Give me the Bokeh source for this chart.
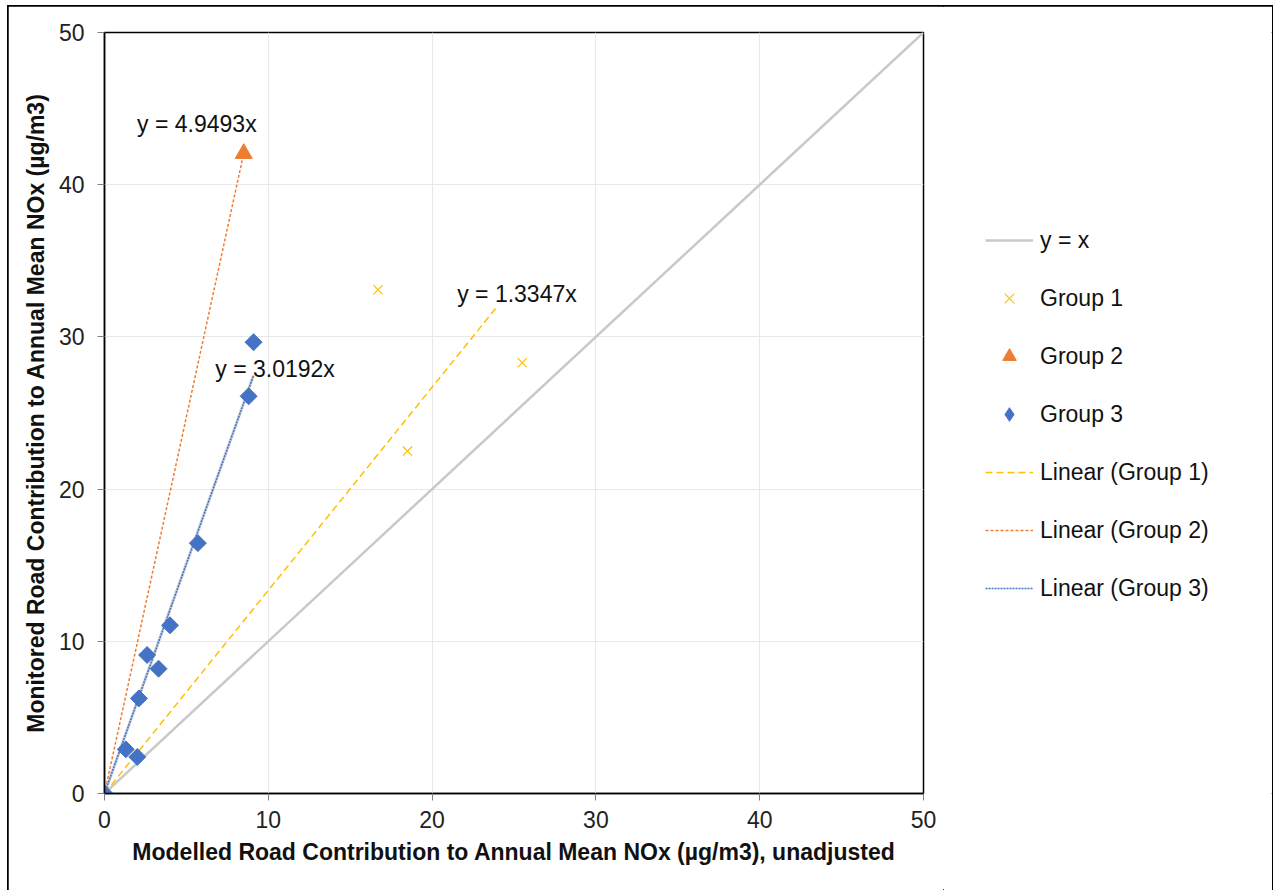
import math
from bokeh.plotting import figure
from bokeh.layouts import row
from bokeh.models import (Range1d, FixedTicker, Legend, LegendItem, Label)
from bokeh.embed import file_html
from bokeh.resources import INLINE

# ---- data ----
g1_x = [16.7, 18.5, 25.5]
g1_y = [33.1, 22.5, 28.3]
g2_x = [0.0, 8.5]
g2_y = [0.0, 42.05]
g3_x = [0.0, 1.3, 2.0, 2.1, 2.6, 3.3, 4.0, 5.7, 8.8, 9.1]
g3_y = [0.0, 2.9, 2.4, 6.25, 9.1, 8.2, 11.05, 16.45, 26.1, 29.65]
identity_x = [0, 50]
trend_slopes = [1.3347, 4.9493, 3.0192]
trend_x_end = [24.0, 8.5, 9.1]
trend_labels = ["y = 1.3347x", "y = 4.9493x", "y = 3.0192x"]
ticks = [0, 10, 20, 30, 40, 50]

FONT = "Liberation Sans"
FS = "23px"
YELLOW = "#FFC000"
ORANGE = "#ED7D31"
BLUE = "#4472C4"
GREY = "#C9C9C9"
colors = [YELLOW, ORANGE, BLUE]
dashes = ["7 4", "3 2", "2 1"]

p = figure(width=935, height=884, x_range=Range1d(0, 50), y_range=Range1d(0, 50),
           output_backend="svg", toolbar_location=None,
           min_border_left=96, min_border_right=20, min_border_top=26, min_border_bottom=97)

p.outline_line_color = "black"
p.outline_line_width = 1.5
p.background_fill_color = "white"
p.border_fill_color = "white"

for ax in (p.xaxis[0], p.yaxis[0]):
    ax.ticker = FixedTicker(ticks=ticks)
    ax.axis_line_color = "black"
    ax.axis_line_width = 1.5
    ax.major_tick_line_color = "#808080"
    ax.major_tick_out = 7
    ax.major_tick_in = 0
    ax.minor_tick_line_color = None
    ax.major_label_text_font = FONT
    ax.major_label_text_font_size = FS
    ax.major_label_text_color = "#222222"
    ax.axis_label_text_font = FONT
    ax.axis_label_text_font_size = FS
    ax.axis_label_text_font_style = "bold"
    ax.axis_label_text_color = "#111111"

p.xaxis.axis_label = "Modelled Road Contribution to Annual Mean NOx (µg/m3), unadjusted"
p.yaxis.axis_label = "Monitored Road Contribution to Annual Mean NOx (µg/m3)"
p.xaxis.major_label_standoff = 10
p.yaxis.major_label_standoff = 13
p.xaxis.axis_label_standoff = 8
p.yaxis.axis_label_standoff = 7

p.xgrid.ticker = FixedTicker(ticks=ticks)
p.ygrid.ticker = FixedTicker(ticks=ticks)
p.xgrid.grid_line_color = "#E8E8E8"
p.ygrid.grid_line_color = "#E8E8E8"

# y = x
p.line(identity_x, identity_x, line_color=GREY, line_width=2.5)

# trendlines
for i in range(3):
    xs = [0, trend_x_end[i]]
    ys = [0, trend_slopes[i] * trend_x_end[i]]
    if i == 2:
        p.line(xs, ys, line_color="#B8BCC8", line_width=3, line_alpha=0.7)
    p.line(xs, ys, line_color=colors[i], line_width=1.5, line_dash=dashes[i])

# scatter
p.scatter(g1_x, g1_y, marker="x", size=13, line_color=YELLOW, line_width=1.2)
p.scatter(g2_x, g2_y, marker="triangle", size=17, fill_color=ORANGE, line_color=ORANGE)
p.scatter(g3_x, g3_y, marker="square", size=12, angle=math.pi / 4,
          fill_color=BLUE, line_color=BLUE)

# trendline equation labels
label_pos = [(25.18, 32.85), (5.64, 44.0), (10.41, 27.92)]
for i in range(3):
    p.add_layout(Label(x=label_pos[i][0], y=label_pos[i][1], text=trend_labels[i],
                       text_font=FONT, text_font_size=FS, text_color="#111111",
                       text_align="center", text_baseline="middle"))

# ---- legend panel (separate figure; its series lie outside its ranges) ----
q = figure(width=329, height=884, x_range=Range1d(-200, -199), y_range=Range1d(-200, -199),
           output_backend="svg", toolbar_location=None,
           min_border_left=0, min_border_right=0, min_border_top=0, min_border_bottom=0)
q.xaxis.visible = False
q.yaxis.visible = False
q.xgrid.visible = False
q.ygrid.visible = False
q.outline_line_color = None
q.background_fill_color = "white"
q.border_fill_color = "white"

l_id = q.line(identity_x, identity_x, line_color=GREY, line_width=2.5)
l1 = q.scatter(g1_x, g1_y, marker="x", line_color=YELLOW, line_width=1.2)
l2 = q.scatter(g2_x, g2_y, marker="triangle", fill_color=ORANGE, line_color=ORANGE)
l3 = q.scatter(g3_x, g3_y, marker="diamond", fill_color=BLUE, line_color=BLUE)
lt = []
for i in range(3):
    lt.append(q.line([0, trend_x_end[i]], [0, trend_slopes[i] * trend_x_end[i]],
                     line_color=colors[i], line_width=1.5, line_dash=dashes[i]))

legend = Legend(items=[
    LegendItem(label="y = x", renderers=[l_id]),
    LegendItem(label="Group 1", renderers=[l1]),
    LegendItem(label="Group 2", renderers=[l2]),
    LegendItem(label="Group 3", renderers=[l3]),
    LegendItem(label="Linear (Group 1)", renderers=[lt[0]]),
    LegendItem(label="Linear (Group 2)", renderers=[lt[1]]),
    LegendItem(label="Linear (Group 3)", renderers=[lt[2]]),
], location=(42, 188))
legend.label_text_font = FONT
legend.label_text_font_size = FS
legend.label_text_color = "#111111"
legend.glyph_width = 48
legend.glyph_height = 34
legend.label_height = 34
legend.spacing = 24
legend.label_standoff = 7
legend.padding = 10
legend.margin = 0
legend.border_line_color = None
legend.background_fill_alpha = 0
q.add_layout(legend, "center")

layout = row(p, q, styles={"outline": "2px solid black", "outline-offset": "-1px",
                           "margin-left": "8px", "margin-top": "6px", "background": "white"})

open("out.html", "w").write(file_html(layout, INLINE))
